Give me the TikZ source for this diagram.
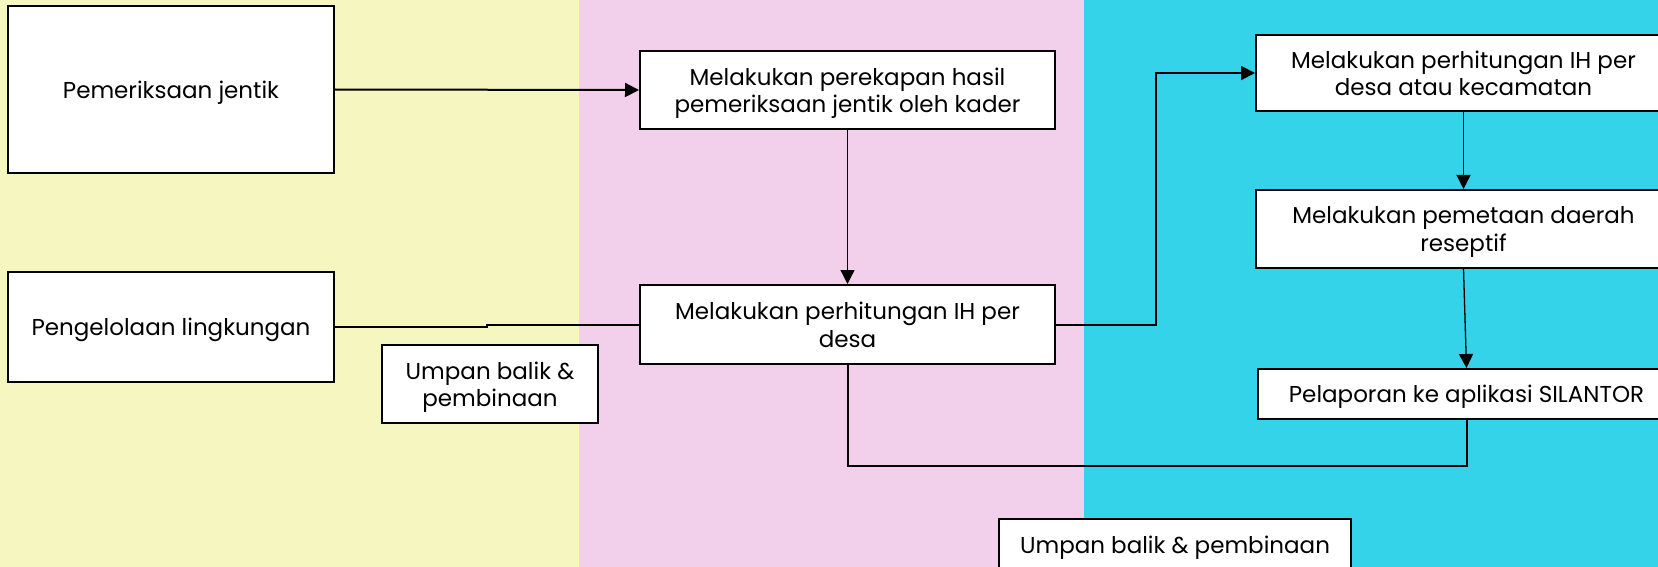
\documentclass[tikz,border=0pt]{standalone}
\usepackage{fontspec}
\setmainfont{Poppins}
\usetikzlibrary{arrows.meta}
\definecolor{bgyellow}{RGB}{246,246,192}
\definecolor{bgpink}{RGB}{242,208,236}
\definecolor{bgcyan}{RGB}{52,211,234}
\begin{document}
\begin{tikzpicture}[x=1pt,y=-1pt,
  box/.style={draw=black, line width=2pt, fill=white, inner sep=0pt, align=center, text depth=0pt, font=\fontsize{23}{27.5}\selectfont},
  conn/.style={line width=2pt},
  thinconn/.style={line width=1.3pt},
  arr/.style={-{Triangle[length=14pt,width=14pt]}}]
\useasboundingbox (0,0) rectangle (1658,567);
\clip (0,0) rectangle (1658,567);
\fill[bgyellow] (0,0) rectangle (579,567);
\fill[bgpink] (579,0) rectangle (1084,567);
\fill[bgcyan] (1084,0) rectangle (1658,567);

\node[box, minimum width=325.5pt, minimum height=167pt] (A) at (171,89.5) {Pemeriksaan jentik};
\node[box, minimum width=325.5pt, minimum height=110pt] (B) at (171,327) {Pengelolaan lingkungan};
\node[box, minimum width=216pt, minimum height=78pt] (C) at (490,384) {Umpan balik \&\\pembinaan};
\node[box, minimum width=415pt, minimum height=78pt] (D) at (847.5,90) {Melakukan perekapan hasil\\pemeriksaan jentik oleh kader};
\node[box, minimum width=415pt, minimum height=79pt] (E) at (847.5,324.5) {Melakukan perhitungan IH per\\desa};
\node[box, minimum width=415pt, minimum height=76pt] (F) at (1463.5,73) {Melakukan perhitungan IH per\\desa atau kecamatan};
\node[box, minimum width=415pt, minimum height=78pt] (G) at (1463.5,229) {Melakukan pemetaan daerah\\reseptif};
\node[box, minimum width=417pt, minimum height=50pt] (H) at (1466.5,394) {Pelaporan ke aplikasi SILANTOR};
\node[box, minimum width=352pt, minimum height=52pt] (I) at (1175,545) {Umpan balik \& pembinaan};

\coordinate (e1) at (1156,0);
\coordinate (low) at (0,466);
\coordinate (m) at (487,0);

\draw[conn,arr] (A.east) -- (D.west);
\draw[conn] (B.east) -- (B.east -| m) -- (E.west -| m) -- (E.west);
\draw[thinconn,arr] (D.south) -- (E.north);
\draw[conn,arr] (E.east) -- (E.east -| e1) |- (F.west);
\draw[thinconn,arr] (F.south) -- (G.north);
\draw[thinconn,arr] (G.south) -- (H.north);
\draw[conn] (H.south) -- (H.south |- low) -| (E.south);
\end{tikzpicture}
\end{document}
